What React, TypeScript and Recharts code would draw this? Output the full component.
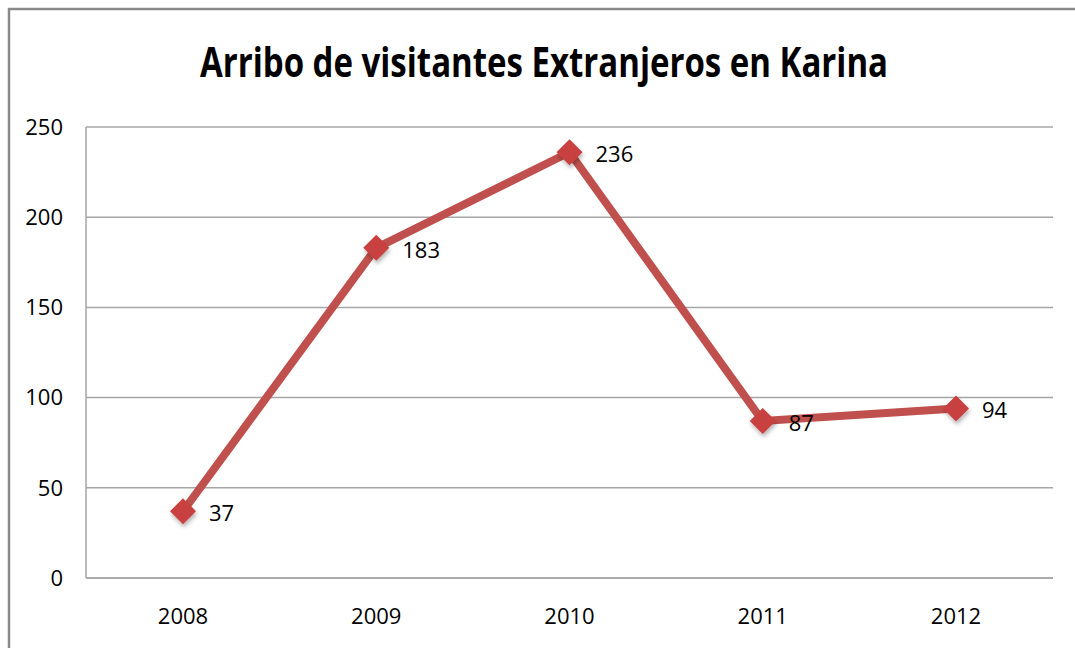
import { CartesianGrid, LabelList, Line, LineChart, XAxis, YAxis } from 'recharts'

const YEARS = ['2008', '2009', '2010', '2011', '2012']
const VISITORS = [37, 183, 236, 87, 94]
const Y_TICKS = [0, 50, 100, 150, 200, 250]

const TITLE = 'Arribo de visitantes Extranjeros en Karina'
const FONT = "'Open Sans', sans-serif"
const RED = '#c0504d'
const GRID = '#a6a6a6'

const rows = YEARS.map((year, i) => ({ year, visitors: VISITORS[i] }))

// diamond marker with a soft drop shadow like the spreadsheet original
function Diamond(props: { cx?: number; cy?: number; index?: number }) {
  const { cx, cy, index } = props
  if (cx == null || cy == null) return null
  const r = 13
  return (
    <polygon
      key={`d-${index}`}
      points={`${cx},${cy - r} ${cx + r},${cy} ${cx},${cy + r} ${cx - r},${cy}`}
      fill="#c8403f"
      filter="url(#markerShadow)"
    />
  )
}

export default function App() {
  return (
    <div style={{ position: 'absolute', left: 0, top: 0, width: 1075, height: 648, background: '#fff' }}>
      <svg width={1075} height={648} style={{ position: 'absolute', left: 0, top: 0 }}>
        <path d="M9 648 V9 H1075" fill="none" stroke="#8a8a8a" strokeWidth={2.5} />
        <text
          x={544}
          y={77}
          textAnchor="middle"
          fontFamily={FONT}
          fontWeight="bold"
          fontSize={41}
          textLength={688}
          lengthAdjust="spacingAndGlyphs"
          fill="#000"
        >
          {TITLE}
        </text>
      </svg>
      <LineChart
        width={1075}
        height={648}
        data={rows}
        margin={{ top: 127, right: 22, bottom: 0, left: 8 }}
        style={{ position: 'absolute', left: 0, top: 0 }}
      >
        <defs>
          <filter id="markerShadow" x="-50%" y="-50%" width="200%" height="200%">
            <feDropShadow dx={1} dy={3} stdDeviation={2} floodColor="#000" floodOpacity={0.3} />
          </filter>
        </defs>
        <CartesianGrid vertical={false} stroke={GRID} strokeWidth={1.5} />
        <XAxis
          dataKey="year"
          height={70}
          padding={{ left: 97, right: 97 }}
          tickLine={false}
          tickSize={0}
          tickMargin={30}
          axisLine={{ stroke: GRID, strokeWidth: 1.5 }}
          tick={{ fill: '#000', fontSize: 22, fontFamily: FONT }}
        />
        <YAxis
          width={78}
          domain={[0, 250]}
          ticks={Y_TICKS}
          tickLine={false}
          tickSize={0}
          tickMargin={23}
          axisLine={{ stroke: GRID, strokeWidth: 1.5 }}
          tick={{ fill: '#000', fontSize: 22, fontFamily: FONT }}
        />
        <Line
          dataKey="visitors"
          stroke={RED}
          strokeWidth={8}
          dot={<Diamond />}
          activeDot={false}
          isAnimationActive={false}
        >
          <LabelList
            dataKey="visitors"
            position="right"
            offset={26}
            dy={2}
            fill="#000"
            fontSize={22}
            fontFamily={FONT}
          />
        </Line>
      </LineChart>
    </div>
  )
}
